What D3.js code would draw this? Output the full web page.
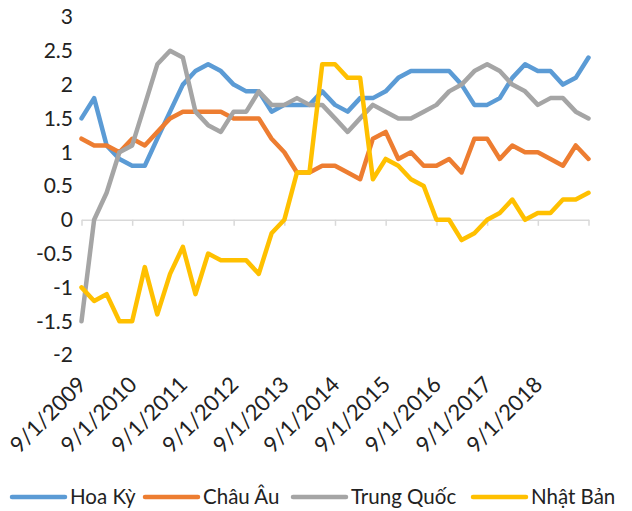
<!DOCTYPE html>
<html>
<head>
<meta charset="utf-8">
<script src="https://cdn.jsdelivr.net/npm/d3@7"></script>
<style>
  body { margin: 0; background: #fff; }
  svg text { font-family: Lato, "Open Sans", sans-serif; fill: #222; }
</style>
</head>
<body>
<div id="chart"></div>
<script>
// quarterly observations, first one at 9/1/2009
const startDate = new Date(2009, 8, 1);
const tickLabels = ['9/1/2009','9/1/2010','9/1/2011','9/1/2012','9/1/2013',
                    '9/1/2014','9/1/2015','9/1/2016','9/1/2017','9/1/2018'];
const yTicks = [-2, -1.5, -1, -0.5, 0, 0.5, 1, 1.5, 2, 2.5, 3];

const seriesNames = ['Hoa Kỳ', 'Châu Âu', 'Trung Quốc', 'Nhật Bản'];
const seriesColors = ['#5B9BD5', '#ED7D31', '#A5A5A5', '#FFC000'];

const hoaKy = [1.5, 1.8, 1.1, 0.9, 0.8, 0.8, 1.2, 1.6, 2.0, 2.2, 2.3, 2.2, 2.0, 1.9, 1.9, 1.6,
               1.7, 1.7, 1.7, 1.9, 1.7, 1.6, 1.8, 1.8, 1.9, 2.1, 2.2, 2.2, 2.2, 2.2, 2.0, 1.7,
               1.7, 1.8, 2.1, 2.3, 2.2, 2.2, 2.0, 2.1, 2.4];
const chauAu = [1.2, 1.1, 1.1, 1.0, 1.2, 1.1, 1.3, 1.5, 1.6, 1.6, 1.6, 1.6, 1.5, 1.5, 1.5, 1.2,
                1.0, 0.7, 0.7, 0.8, 0.8, 0.7, 0.6, 1.2, 1.3, 0.9, 1.0, 0.8, 0.8, 0.9, 0.7, 1.2,
                1.2, 0.9, 1.1, 1.0, 1.0, 0.9, 0.8, 1.1, 0.9];
const trungQuoc = [-1.5, 0.0, 0.4, 1.0, 1.1, 1.7, 2.3, 2.5, 2.4, 1.6, 1.4, 1.3, 1.6, 1.6, 1.9, 1.7,
                   1.7, 1.8, 1.7, 1.7, 1.5, 1.3, 1.5, 1.7, 1.6, 1.5, 1.5, 1.6, 1.7, 1.9, 2.0, 2.2,
                   2.3, 2.2, 2.0, 1.9, 1.7, 1.8, 1.8, 1.6, 1.5];
const nhatBan = [-1.0, -1.2, -1.1, -1.5, -1.5, -0.7, -1.4, -0.8, -0.4, -1.1, -0.5, -0.6, -0.6, -0.6, -0.8, -0.2,
                 0.0, 0.7, 0.7, 2.3, 2.3, 2.1, 2.1, 0.6, 0.9, 0.8, 0.6, 0.5, 0.0, 0.0, -0.3, -0.2,
                 0.0, 0.1, 0.3, 0.0, 0.1, 0.1, 0.3, 0.3, 0.4];

const allSeries = [hoaKy, chauAu, trungQuoc, nhatBan];

const width = 632, height = 511;
const plot = {left: 81.5, right: 588.5, top: 17, bottom: 355};

const dates = hoaKy.map((d, i) => d3.timeMonth.offset(startDate, i * 3));
const tickDates = tickLabels.map((d, i) => d3.timeMonth.offset(startDate, i * 12));

const x = d3.scaleTime()
  .domain([dates[0], dates[dates.length - 1]])
  .range([plot.left, plot.right]);
const y = d3.scaleLinear()
  .domain([-2, 3])
  .range([plot.bottom, plot.top]);

const $svg = d3.select('#chart').append('svg')
  .attr('width', width)
  .attr('height', height);

// y labels
$svg.append('g').selectAll('text')
  .data(yTicks)
  .enter().append('text')
    .attr('x', 73)
    .attr('y', d => y(d))
    .attr('dy', '0.35em')
    .attr('text-anchor', 'end')
    .style('font-size', '21px')
    .text(d => d);

// zero axis with tick marks
const $xAxis = $svg.append('g')
  .attr('transform', `translate(0, ${y(0)})`)
  .call(d3.axisBottom(x)
    .tickValues(tickDates.concat([dates[dates.length - 1]]))
    .tickSize(6)
    .tickSizeOuter(0)
    .tickFormat(''));
$xAxis.select('.domain').attr('stroke', '#D9D9D9').attr('stroke-width', 1.5);
$xAxis.selectAll('.tick line').attr('stroke', '#D9D9D9').attr('stroke-width', 1.5);

// rotated date labels below the plot
$svg.append('g').selectAll('text')
  .data(tickLabels)
  .enter().append('text')
    .attr('transform', (d, i) => `translate(${x(tickDates[i]) + 6}, ${plot.bottom + 31}) rotate(-45)`)
    .attr('text-anchor', 'end')
    .style('font-size', '22px')
    .text(d => d);

// series lines
const line = d3.line()
  .x((d, i) => x(dates[i]))
  .y(d => y(d));

$svg.append('g').selectAll('path')
  .data(allSeries)
  .enter().append('path')
    .attr('d', line)
    .attr('fill', 'none')
    .attr('stroke', (d, i) => seriesColors[i])
    .attr('stroke-width', 4.5)
    .attr('stroke-linejoin', 'round')
    .attr('stroke-linecap', 'round');

// legend
const legendX = [12, 145, 293, 473];
const $legend = $svg.append('g').selectAll('g')
  .data(seriesNames)
  .enter().append('g')
    .attr('transform', (d, i) => `translate(${legendX[i]}, 497)`);

$legend.append('line')
  .attr('x1', 0).attr('x2', 53)
  .attr('stroke', (d, i) => seriesColors[i])
  .attr('stroke-width', 4.5)
  .attr('stroke-linecap', 'round');

$legend.append('text')
  .attr('x', 58)
  .attr('dy', '0.35em')
  .style('font-size', '20.5px')
  .text(d => d);
</script>
</body>
</html>
